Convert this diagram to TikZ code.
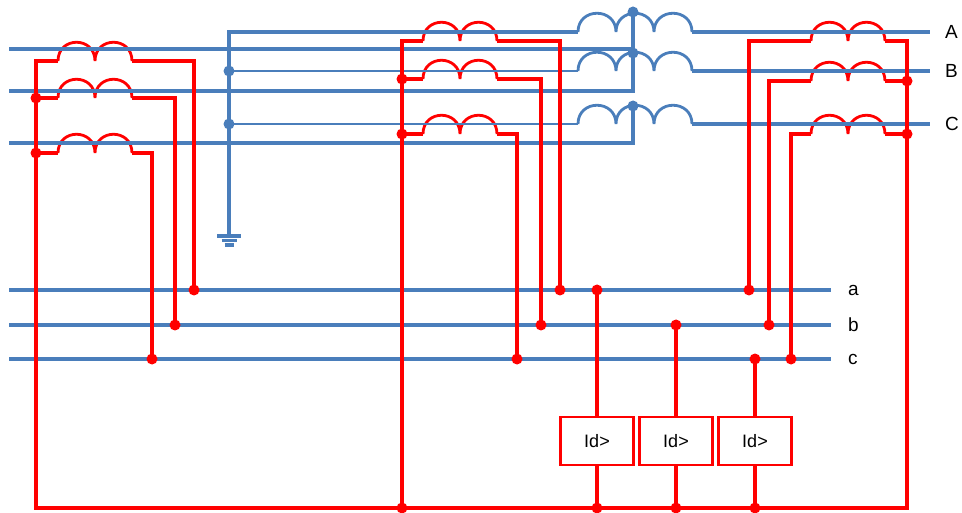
\documentclass[tikz,border=0pt]{standalone}
\usepackage{fontspec}
\setmainfont{Liberation Sans}
\usetikzlibrary{positioning}

\begin{document}
\begin{tikzpicture}[x=1pt,y=-1pt,
  bus/.style={draw=lineblue,line width=3.4pt},
  tap/.style={draw=lineblue,line width=2.8pt},
  wire/.style={draw=red,line width=3.2pt},
  ctcoil/.style={draw=red,line width=2.8pt},
  reddot/.style={circle,fill=red,inner sep=0pt,minimum size=11pt},
  bluedot/.style={circle,fill=lineblue,inner sep=0pt,minimum size=11pt},
  relay/.style={draw=red,line width=2.6pt,minimum width=73pt,minimum height=48pt,font=\fontsize{18}{20}\selectfont},
  phase/.style={inner sep=0pt,font=\fontsize{19}{21}\selectfont}]
\definecolor{lineblue}{HTML}{4A7EBB}
\useasboundingbox (0,0) rectangle (962,513);

% main transformer windings
\foreach \n/\cy in {T1/32,T2/71,T3/124}
  {\draw[tap] (578,\cy) coordinate (\n-i)
     .. controls +(0,-25) and +(0,-25) .. ++(38,0)
     .. controls +(0,-25) and +(0,-25) .. ++(38,0)
     .. controls +(0,-25) and +(0,-25) .. ++(38,0) coordinate (\n-o);}
% current transformers
\foreach \n/\cx/\cy in {L1/58/61,L2/58/98,L3/58/153,M1/423/41,M2/423/79,M3/423/134,R1/811/41,R2/811/81,R3/811/134}
  {\draw[ctcoil] (\cx,\cy) coordinate (\n-i)
     .. controls +(0,-25) and +(0,-25) .. ++(37,0)
     .. controls +(0,-25) and +(0,-25) .. ++(37,0) coordinate (\n-o);}

% junctions
\foreach \n/\x/\y in {nb/229/71,nc/229/124,ta/633/12,tb/633/53,tc/633/106}
  {\coordinate (\n) at (\x,\y);}
\foreach \n/\x/\y in {ja1/194/290,jb1/175/325,jc1/152/359,ja2/560/290,jb2/541/325,jc2/517/359,ja3/749/290,jb3/769/325,jc3/791/359,
  ra/597/290,rb/676/325,rc/755/359,g1/402/508,ga/597/508,gb/676/508,gc/755/508,l2/36/98,l3/36/153,m2/402/79,m3/402/134,r2/907/81,r3/907/134}
  {\coordinate (\n) at (\x,\y);}
\coordinate (bl) at (36,508);
\coordinate (br) at (907,508);
\coordinate (gnd) at (229,236);

% blue lines
\foreach \s/\t/\y in {pa/ta/49,pb/tb/91,pc/tc/143}
  {\draw[bus] (9,\y) coordinate (\s) -| (\t);}
\draw[bus] (gnd) |- (T1-i);
\draw[tap] (nb) -- (T2-i);
\draw[tap] (nc) -- (T3-i);
\foreach \n/\y/\lbl in {T1/32/A,T2/71/B,T3/124/C}
  {\draw[bus] (\n-o) -- (930,\y) coordinate (e\lbl);
   \node[phase,right=15pt of e\lbl] {\lbl};}
\foreach \y/\lbl in {290/a,325/b,359/c}
  {\draw[bus] (9,\y) -- (831,\y) coordinate (e\lbl);
   \node[phase,right=17pt of e\lbl] {\lbl};}
% earth
\draw[bus] (gnd) ++(-12,0) -- ++(24,0);
\draw[bus] (gnd) ++(-7.5,4.5) -- ++(15,0);
\draw[bus] (gnd) ++(-4.5,9) -- ++(9,0);

% red wiring
\draw[wire] (L1-i) -| (bl) -- (br) |- (R1-o);
\draw[wire] (l2) -- (L2-i);
\draw[wire] (l3) -- (L3-i);
\draw[wire] (L1-o) -| (ja1);
\draw[wire] (L2-o) -| (jb1);
\draw[wire] (L3-o) -| (jc1);
\draw[wire] (M1-i) -| (g1);
\draw[wire] (m2) -- (M2-i);
\draw[wire] (m3) -- (M3-i);
\draw[wire] (M1-o) -| (ja2);
\draw[wire] (M2-o) -| (jb2);
\draw[wire] (M3-o) -| (jc2);
\draw[wire] (R1-i) -| (ja3);
\draw[wire] (R2-i) -| (jb3);
\draw[wire] (R3-i) -| (jc3);
\draw[wire] (R2-o) -- (r2);
\draw[wire] (R3-o) -- (r3);

% differential relays
\foreach \n/\x/\top/\bot in {id1/597/ra/ga,id2/676/rb/gb,id3/755/rc/gc}
  {\node[relay] (\n) at (\x,441) {Id>};
   \draw[wire] (\top) -- (\n.north);
   \draw[wire] (\n.south) -- (\bot);}

% dots on top
\foreach \n in {nb,nc,ta,tb,tc}
  {\node[bluedot] at (\n) {};}
\foreach \n in {ja1,jb1,jc1,ja2,jb2,jc2,ja3,jb3,jc3,ra,rb,rc,g1,ga,gb,gc,l2,l3,m2,m3,r2,r3}
  {\node[reddot] at (\n) {};}
\end{tikzpicture}
\end{document}
